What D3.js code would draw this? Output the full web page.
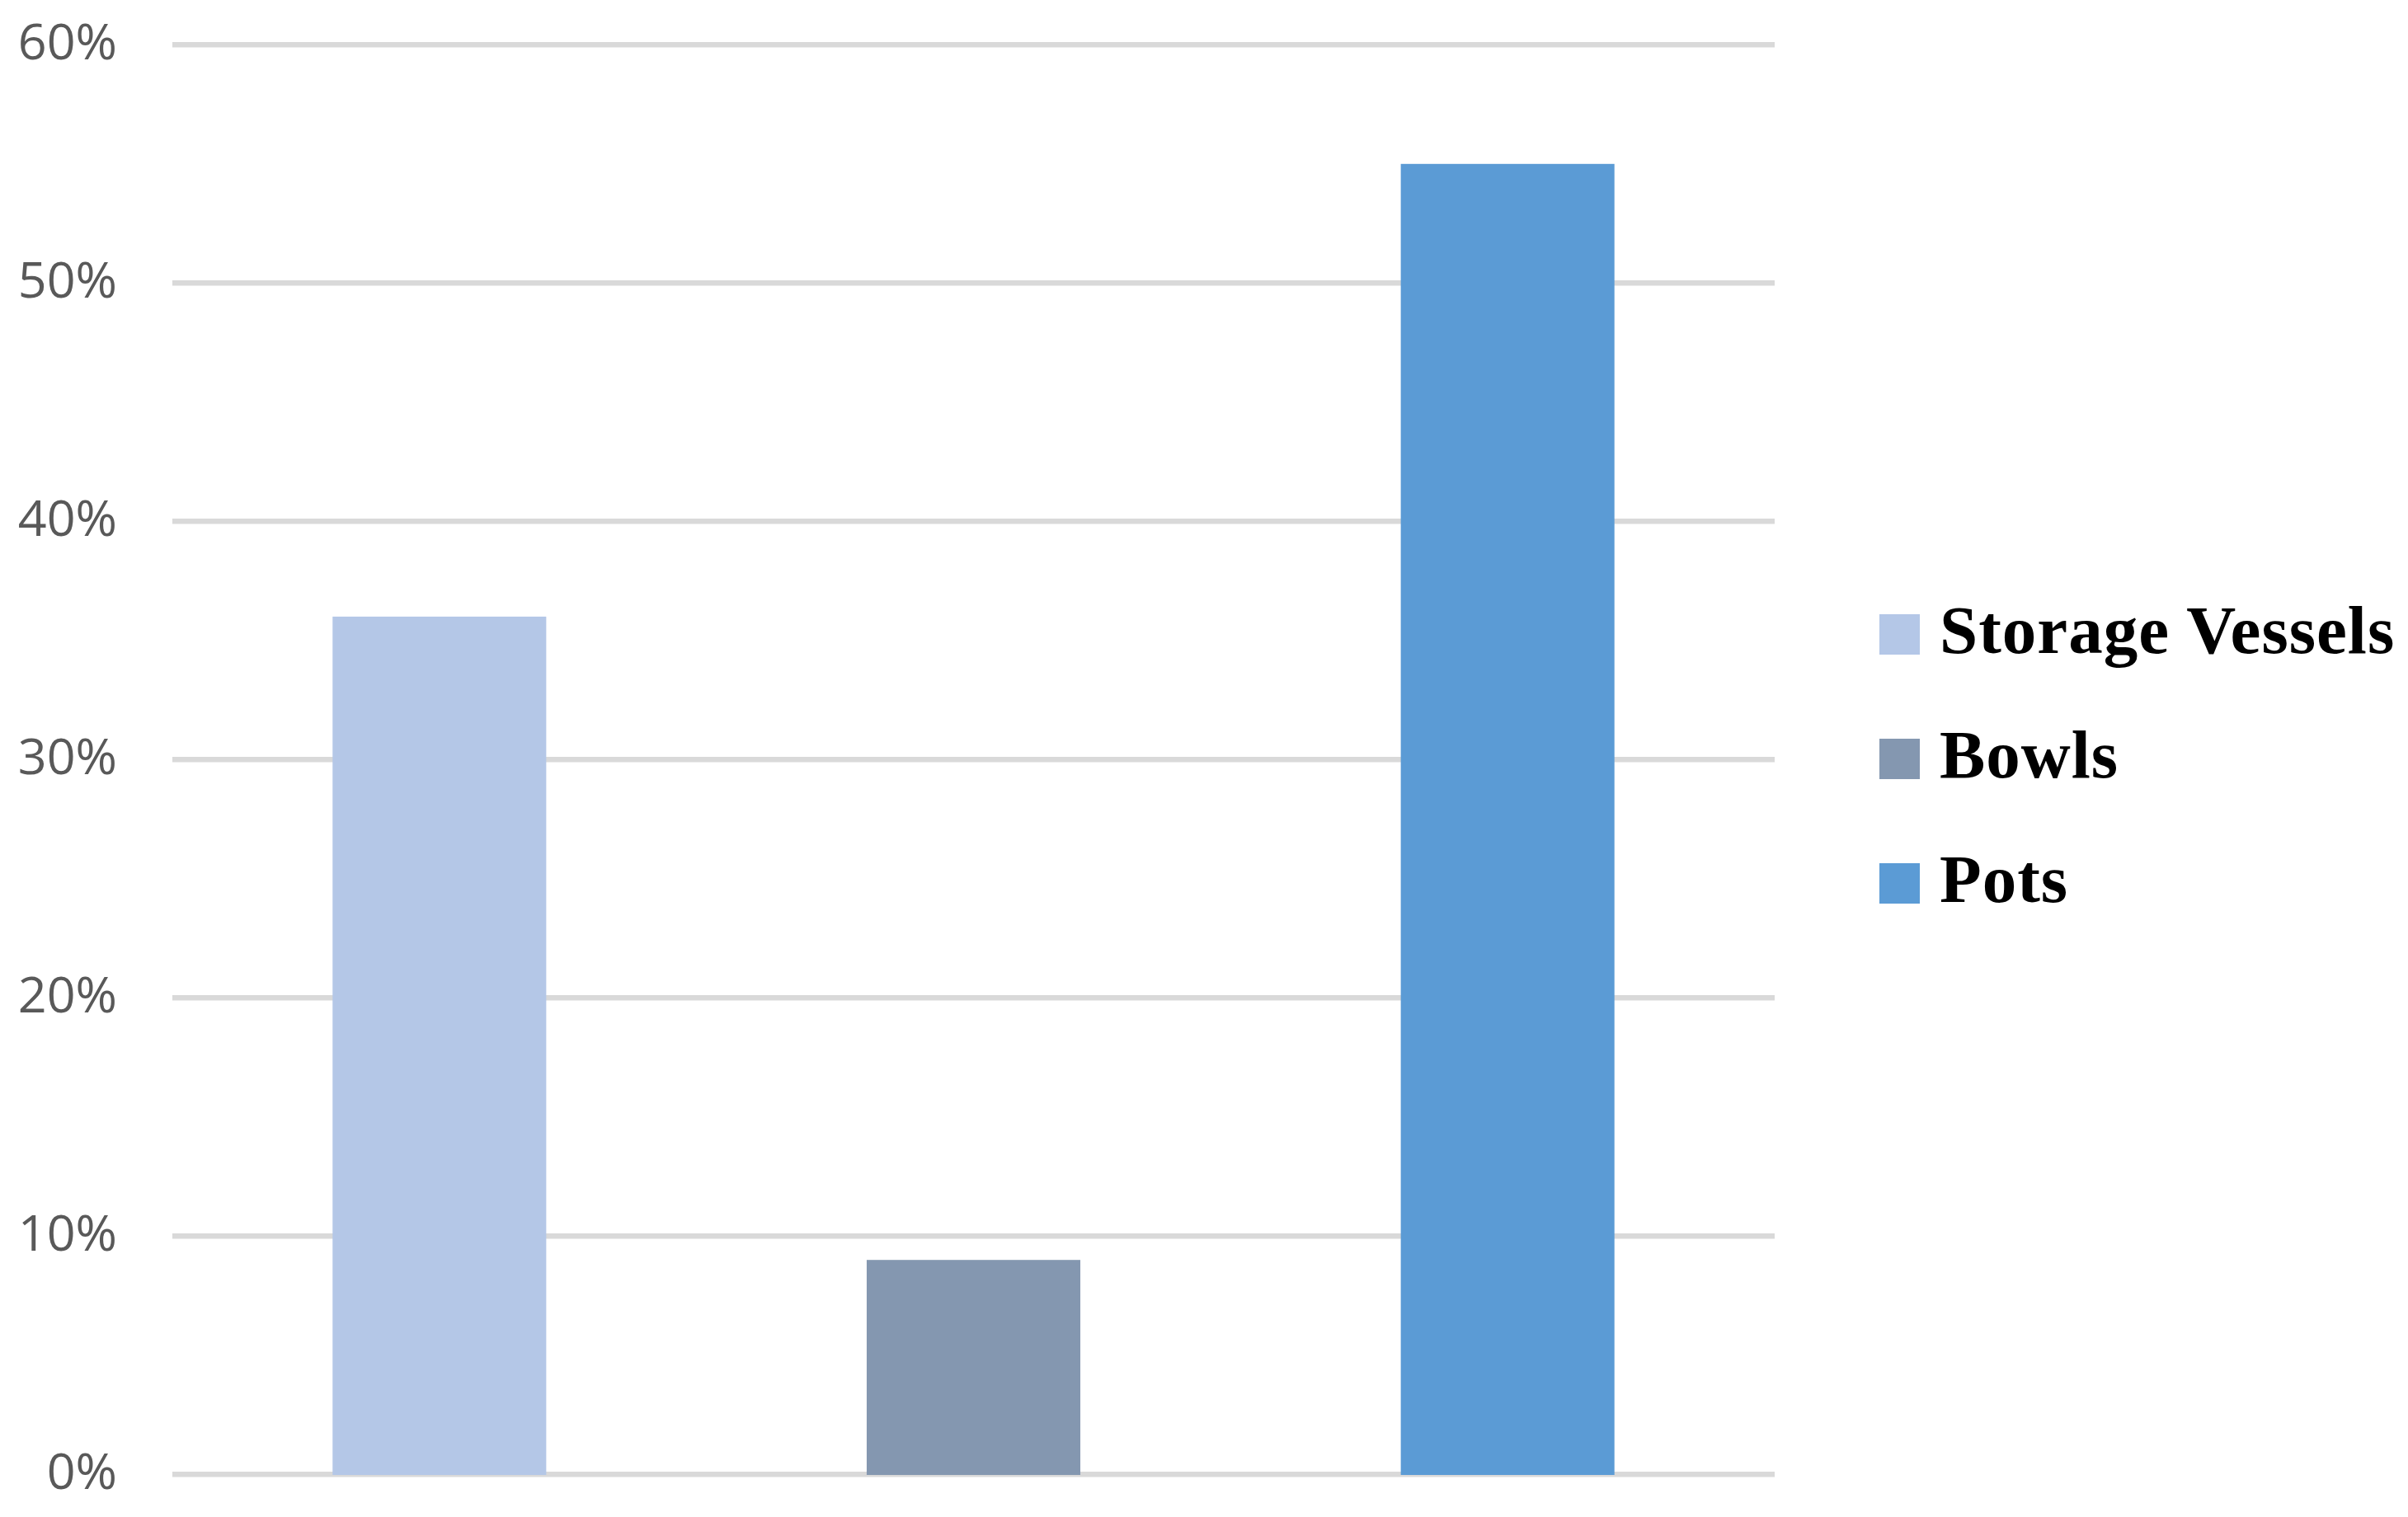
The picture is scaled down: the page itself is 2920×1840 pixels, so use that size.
<!DOCTYPE html>
<html>
<head>
<meta charset="utf-8">
<script src="https://cdn.jsdelivr.net/npm/d3@7"></script>
<style>
  html, body { margin: 0; padding: 0; background: #fff; }
  svg { display: block; }
</style>
</head>
<body>
<svg id="chart" width="2920" height="1840"></svg>
<script>
const categories = ["Storage Vessels", "Bowls", "Pots"];
const values = [0.36, 0.09, 0.55];
const colors = ["#b4c7e7", "#8497b0", "#5b9bd5"];
const tickValues = [0, 0.1, 0.2, 0.3, 0.4, 0.5, 0.6];

const svg = d3.select("#chart");
const x = d3.scaleBand().domain(categories).range([209, 2152]).paddingInner(0.6).paddingOuter(0.3);
const y = d3.scaleLinear().domain([0, 0.6]).range([1788.3, 54.3]);

// gridlines
svg.append("g").selectAll("line").data(tickValues).join("line")
  .attr("x1", 209).attr("x2", 2152)
  .attr("y1", d => y(d)).attr("y2", d => y(d))
  .attr("stroke", "#d9d9d9").attr("stroke-width", 6.6);

// y axis labels
const yAxis = d3.axisLeft(y).tickValues(tickValues).tickFormat(d3.format(".0%")).tickSize(0).tickPadding(0);
const ag = svg.append("g").attr("transform", "translate(142,0)").call(yAxis);
ag.select(".domain").remove();
ag.selectAll(".tick").attr("transform", null);
ag.selectAll(".tick text")
  .attr("font-family", "'Open Sans', sans-serif")
  .attr("font-size", 61)
  .attr("fill", "#595959")
  .attr("dy", null)
  .attr("x", 0)
  .attr("y", d => y(d) + 18);

// bars
svg.append("g").selectAll("rect").data(categories).join("rect")
  .attr("x", d => x(d))
  .attr("width", x.bandwidth())
  .attr("y", (d, i) => y(values[i]))
  .attr("height", (d, i) => y(0) - y(values[i]) + 0.7)
  .attr("fill", (d, i) => colors[i]);

// legend
const lg = svg.append("g");
const legendY = d3.scalePoint().domain(categories).range([792, 1094]);
const items = lg.selectAll("g").data(categories).join("g");
items.append("rect")
  .attr("x", 2279).attr("width", 49)
  .attr("y", d => legendY(d) - 47).attr("height", 49)
  .attr("fill", (d, i) => colors[i]);
items.append("text")
  .attr("x", 2352)
  .attr("y", d => legendY(d))
  .attr("font-family", "'Liberation Serif', serif")
  .attr("font-weight", "bold")
  .attr("font-size", 83)
  .attr("letter-spacing", 1)
  .attr("fill", "#000")
  .text(d => d);
</script>
</body>
</html>
